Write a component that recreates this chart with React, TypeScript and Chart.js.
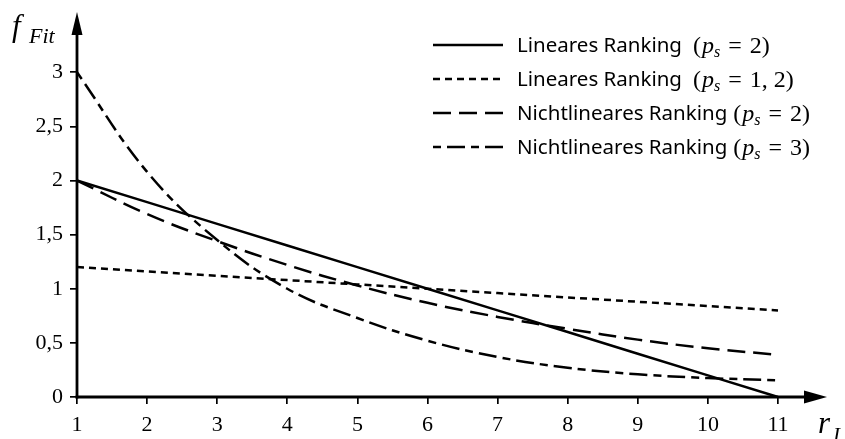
import { useEffect, useRef } from 'react';
import { Chart, registerables } from 'chart.js';

Chart.register(...registerables);

const RANKS = [1, 2, 3, 4, 5, 6, 7, 8, 9, 10, 11];
const X_TICKS = [1, 2, 3, 4, 5, 6, 7, 8, 9, 10, 11];
const Y_TICKS = [0, 0.5, 1, 1.5, 2, 2.5, 3];
const Y_TICK_LABELS = ['0', '0,5', '1', '1,5', '2', '2,5', '3'];

const LIN_PS2 = [2, 1.8, 1.6, 1.4, 1.2, 1.0, 0.8, 0.6, 0.4, 0.2, 0];
const LIN_PS12 = [1.2, 1.16, 1.12, 1.08, 1.04, 1.0, 0.96, 0.92, 0.88, 0.84, 0.8];
const NONLIN_PS2 = [2.0, 1.69, 1.44, 1.22, 1.03, 0.87, 0.74, 0.63, 0.53, 0.45, 0.39];
const NONLIN_PS3 = [3.0, 2.08, 1.45, 1.0, 0.73, 0.52, 0.37, 0.27, 0.21, 0.175, 0.155];

const SERIES_NAMES = ['Lineares Ranking', 'Lineares Ranking', 'Nichtlineares Ranking', 'Nichtlineares Ranking'];
const SERIES_PS = ['2', '1, 2', '2', '3'];
const SERIES_DASH: number[][] = [[], [7, 5], [18, 8], [8, 6, 18, 6]];

const X_TITLE = ['r', 'I'];
const Y_TITLE = ['f', 'Fit'];

const SERIF = '"Liberation Serif", "DejaVu Serif", serif';
const SANS = '"Noto Sans", "Open Sans", sans-serif';

const decorPlugin = {
  id: 'decor',
  afterDatasetsDraw(chart: any) {
    const ctx: CanvasRenderingContext2D = chart.ctx;
    const x0 = chart.scales.x.getPixelForValue(1);
    const y0 = chart.scales.y.getPixelForValue(0);
    ctx.save();
    ctx.strokeStyle = '#000';
    ctx.fillStyle = '#000';
    ctx.lineWidth = 2.8;
    ctx.setLineDash([]);
    // y axis
    ctx.beginPath();
    ctx.moveTo(x0, y0 + 1.4);
    ctx.lineTo(x0, 30);
    ctx.stroke();
    ctx.beginPath();
    ctx.moveTo(x0, 12);
    ctx.lineTo(x0 - 5.5, 35);
    ctx.lineTo(x0 + 5.5, 35);
    ctx.closePath();
    ctx.fill();
    // x axis
    ctx.beginPath();
    ctx.moveTo(x0 - 1.4, y0);
    ctx.lineTo(810, y0);
    ctx.stroke();
    ctx.beginPath();
    ctx.moveTo(827, y0);
    ctx.lineTo(804, y0 - 6.5);
    ctx.lineTo(804, y0 + 6.5);
    ctx.closePath();
    ctx.fill();

    // axis titles
    ctx.textBaseline = 'alphabetic';
    ctx.textAlign = 'left';
    ctx.font = `italic 31px ${SERIF}`;
    ctx.fillText(Y_TITLE[0], 12, 36);
    ctx.font = `italic 22px ${SERIF}`;
    ctx.fillText(Y_TITLE[1], 29, 43);
    ctx.font = `italic 31px ${SERIF}`;
    ctx.fillText(X_TITLE[0], 818, 433);
    ctx.font = `italic 21px ${SERIF}`;
    ctx.fillText(X_TITLE[1], 833, 442);

    // legend
    const rowsY = [45, 79, 113, 147];
    for (let i = 0; i < SERIES_NAMES.length; i++) {
      const y = rowsY[i];
      ctx.lineWidth = 2.4;
      ctx.setLineDash(SERIES_DASH[i]);
      ctx.beginPath();
      ctx.moveTo(433, y);
      ctx.lineTo(503, y);
      ctx.stroke();
      ctx.setLineDash([]);
      ctx.textBaseline = 'middle';
      ctx.font = `20.5px ${SANS}`;
      const name = SERIES_NAMES[i];
      ctx.fillText(name, 517, y + 1);
      let x = 517 + ctx.measureText(name).width + (i < 2 ? 11 : 6);
      ctx.textBaseline = 'alphabetic';
      const base = y + 8;
      ctx.font = `24px ${SERIF}`;
      ctx.fillText('(', x, base);
      x += ctx.measureText('(').width + 1;
      ctx.font = `italic 24px ${SERIF}`;
      ctx.fillText('p', x, base);
      x += ctx.measureText('p').width;
      ctx.font = `italic 16px ${SERIF}`;
      ctx.fillText('s', x, base + 4);
      x += ctx.measureText('s').width + 8;
      ctx.font = `24px ${SERIF}`;
      ctx.fillText('=', x, base);
      x += ctx.measureText('=').width + 8;
      ctx.fillText(SERIES_PS[i], x, base);
      x += ctx.measureText(SERIES_PS[i]).width;
      ctx.fillText(')', x, base);
    }
    ctx.restore();
  },
};

export default function App() {
  const ref = useRef<HTMLCanvasElement>(null);
  useEffect(() => {
    document.body.style.margin = '0';
    const canvas = ref.current!;
    const mk = (data: number[], dash: number[], smooth: boolean) => ({
      data: data.map((v, i) => ({ x: RANKS[i], y: v })),
      borderColor: '#000',
      borderWidth: 2.5,
      borderDash: dash,
      pointRadius: 0,
      fill: false,
      tension: smooth ? 0.4 : 0,
      clip: 4,
    });
    const chart = new Chart(canvas, {
      type: 'line',
      data: {
        datasets: [
          { label: SERIES_NAMES[0], ...mk(LIN_PS2, SERIES_DASH[0], false) },
          { label: SERIES_NAMES[1], ...mk(LIN_PS12, SERIES_DASH[1], false) },
          { label: SERIES_NAMES[2], ...mk(NONLIN_PS2, SERIES_DASH[2], true) },
          { label: SERIES_NAMES[3], ...mk(NONLIN_PS3, SERIES_DASH[3], true) },
        ] as any,
      },
      options: {
        responsive: false,
        animation: false,
        devicePixelRatio: 1,
        layout: { padding: { left: 0, top: 29, right: 67, bottom: 0 } },
        plugins: { legend: { display: false }, tooltip: { enabled: false } },
        scales: {
          x: {
            type: 'linear',
            min: 1,
            max: 11,
            afterBuildTicks: (s: any) => {
              s.ticks = X_TICKS.map((v) => ({ value: v }));
            },
            afterFit: (s: any) => {
              s.height = 42;
            },
            border: { display: false },
            grid: { drawOnChartArea: false, drawTicks: true, tickLength: 7, color: '#000', lineWidth: 1.7 },
            ticks: { color: '#000', padding: 8, maxRotation: 0, font: { family: SERIF, size: 22 }, callback: (v: any) => String(v) },
          },
          y: {
            type: 'linear',
            min: 0,
            max: 3.4,
            afterBuildTicks: (s: any) => {
              s.ticks = Y_TICKS.map((v) => ({ value: v }));
            },
            afterFit: (s: any) => {
              s.width = 77;
            },
            border: { display: false },
            grid: { drawOnChartArea: false, drawTicks: true, tickLength: 7, color: '#000', lineWidth: 1.7 },
            ticks: {
              color: '#000',
              padding: 7,
              font: { family: SERIF, size: 22 },
              callback: (v: any) => {
                const i = Y_TICKS.indexOf(Number(v));
                return i >= 0 ? Y_TICK_LABELS[i] : '';
              },
            },
          },
        },
      },
      plugins: [decorPlugin],
    });
    return () => chart.destroy();
  }, []);
  return (
    <div style={{ width: 845, height: 439 }}>
      <canvas ref={ref} width={845} height={439} style={{ display: 'block' }} />
    </div>
  );
}
